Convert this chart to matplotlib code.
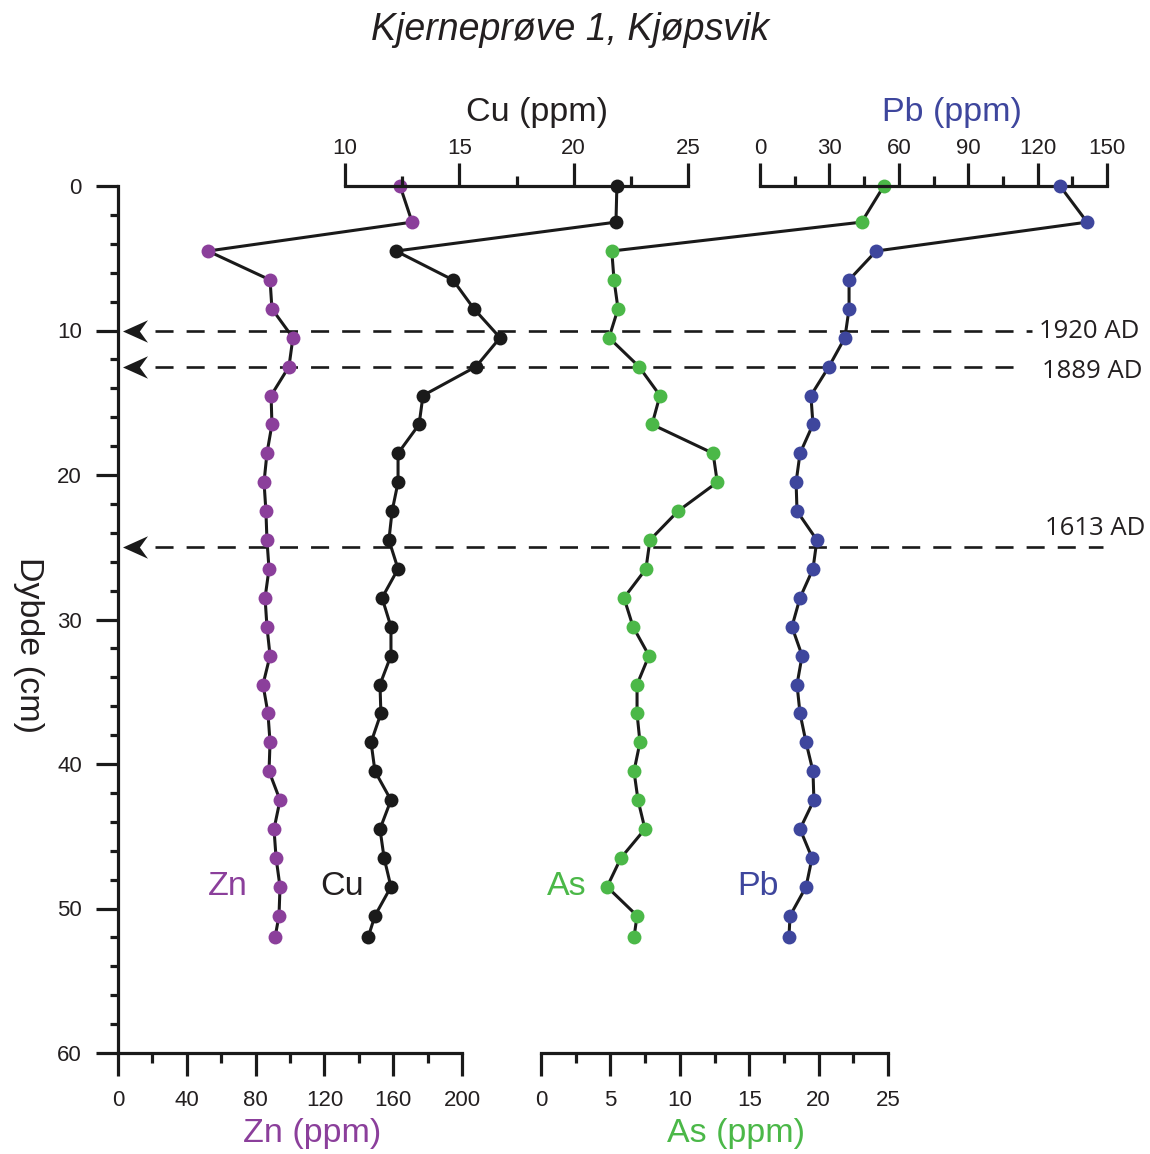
import matplotlib
matplotlib.use('Agg')
import matplotlib.pyplot as plt
from matplotlib.path import Path
from matplotlib.ticker import MultipleLocator

plt.rcParams['font.family'] = ['Liberation Sans', 'DejaVu Sans']
plt.rcParams['lines.scale_dashes'] = False

# ---------------- data ----------------
depth = [0, 2.5, 4.5, 6.5, 8.5, 10.5, 12.5, 14.5, 16.5, 18.5, 20.5, 22.5, 24.5,
         26.5, 28.5, 30.5, 32.5, 34.5, 36.5, 38.5, 40.5, 42.5, 44.5, 46.5,
         48.5, 50.5, 52]
zn = [164, 171, 52.3, 88.4, 89.5, 101.7, 99.4, 89, 89.5, 86.6, 84.9, 86, 86.6,
      87.8, 85.5, 86.6, 88.4, 84.3, 87.2, 88.4, 87.8, 94.2, 90.7, 91.9, 94.2,
      93.6, 91.3]
cu = [21.89, 21.85, 12.23, 14.72, 15.64, 16.78, 15.73, 13.41, 13.24, 12.32,
      12.32, 12.06, 11.92, 12.32, 11.62, 12.01, 12.01, 11.53, 11.57, 11.14,
      11.31, 12.01, 11.53, 11.71, 12.01, 11.31, 11.01]
as_ = [24.7, 23.1, 5.1, 5.26, 5.55, 4.9, 7.06, 8.57, 8.0, 12.4, 12.7, 9.87,
       7.85, 7.56, 5.98, 6.63, 7.78, 6.92, 6.92, 7.13, 6.7, 6.99, 7.49, 5.76,
       4.76, 6.92, 6.7]
pb = [129.7, 141.4, 50.2, 38.5, 38.5, 36.7, 29.8, 22.0, 22.9, 17.3, 15.6, 16.0,
      24.6, 22.9, 17.3, 13.8, 18.2, 16.0, 17.3, 19.9, 22.9, 23.3, 17.3, 22.5,
      19.9, 13.0, 12.5]

date_labels = ['1920 AD', '1889 AD', '1613 AD']
date_depths = [10, 12.5, 25]

title = 'Kjerneprøve 1, Kjøpsvik'
ylabel = 'Dybde (cm)'

# ---------------- style ----------------
PURPLE = '#8B3F9B'
GREEN = '#4BB848'
BLUE = '#3E469D'
BLACK = '#1a1a1a'
TXT = '#231F20'

W, H = 1150, 1154
Y0, Y1 = 186, 1053  # pixel rows of depth 0 and 60

fig = plt.figure(figsize=(W / 100, H / 100), dpi=100)


def rect(x0, x1):
    return [x0 / W, 1 - Y1 / H, (x1 - x0) / W, (Y1 - Y0) / H]


SP_W = 2.3
TICK_FS = 16
LAB_FS = 24.5

# overlay for reference lines (drawn first, below data)
ov = fig.add_axes([0, 1 - Y1 / H, 1, (Y1 - Y0) / H])
ov.set_xlim(0, W)
ov.set_ylim(60, 0)
ov.axis('off')
ov.patch.set_alpha(0)

arrow_path = Path([(-1, 0), (1, 0.9), (0.35, 0), (1, -0.9), (-1, 0)],
                  [Path.MOVETO, Path.LINETO, Path.LINETO, Path.LINETO, Path.CLOSEPOLY])
line_ends = [1032, 1017, 1103]
label_dy = [-5.5, -8, 8.5]
label_x = [1039, 1042, 1045]
for lab, d, xe, dy, lx in zip(date_labels, date_depths, line_ends, label_dy, label_x):
    ov.plot([155, xe], [d, d], color=BLACK, lw=1.9, dashes=(13, 9.4), clip_on=False)
    ov.plot([134.5], [d], marker=arrow_path, markersize=18, color=BLACK,
            markeredgewidth=0, clip_on=False)
    ov.annotate(lab, xy=(lx, d), xytext=(0, dy), textcoords='offset points',
                ha='left', va='baseline',
                fontsize=18.5, family=['Open Sans', 'DejaVu Sans'], color=TXT)


def setup(ax, side, xlim, major, minor):
    ax.set_xlim(*xlim)
    ax.set_ylim(60, 0)
    ax.patch.set_alpha(0)
    for s in ax.spines.values():
        s.set_visible(False)
        s.set_linewidth(SP_W)
        s.set_color(BLACK)
    ax.spines[side].set_visible(True)
    ax.xaxis.set_ticks_position(side)
    ax.xaxis.set_label_position(side)
    ax.xaxis.set_major_locator(MultipleLocator(major))
    ax.xaxis.set_minor_locator(MultipleLocator(minor))
    pad = 10 if side == 'bottom' else 3
    ax.tick_params(axis='x', which='major', direction='out', length=16.5,
                   width=SP_W, labelsize=TICK_FS, pad=pad, colors=BLACK,
                   labelcolor=TXT)
    ax.tick_params(axis='x', which='minor', direction='out', length=7,
                   width=SP_W, colors=BLACK)
    ax.set_yticks([])
    ax.yaxis.set_tick_params(which='minor', left=False, right=False)


def series(ax, x, color):
    ax.plot(x, depth, '-', color=BLACK, lw=2.2, zorder=2, clip_on=False,
            solid_joinstyle='round')
    ax.plot(x, depth, 'o', color=color, markersize=10, markeredgewidth=0,
            zorder=3, clip_on=False)


# Zn (bottom) + depth axis
ax_zn = fig.add_axes(rect(118, 462))
setup(ax_zn, 'bottom', (0, 200), 40, 20)
ax_zn.spines['left'].set_visible(True)
ax_zn.yaxis.set_major_locator(MultipleLocator(10))
ax_zn.yaxis.set_minor_locator(MultipleLocator(2))
ax_zn.tick_params(axis='y', which='major', direction='out', length=16,
                  width=SP_W, labelsize=TICK_FS, pad=10, left=True,
                  labelleft=True, colors=BLACK, labelcolor=TXT)
ax_zn.tick_params(axis='y', which='minor', direction='out', length=6,
                  width=SP_W, left=True, colors=BLACK)
series(ax_zn, zn, PURPLE)

# Cu (top)
ax_cu = fig.add_axes(rect(345, 688))
setup(ax_cu, 'top', (10, 25), 5, 2.5)
series(ax_cu, cu, BLACK)

# As (bottom)
ax_as = fig.add_axes(rect(541, 888))
setup(ax_as, 'bottom', (0, 25), 5, 2.5)
series(ax_as, as_, GREEN)

# Pb (top)
ax_pb = fig.add_axes(rect(760, 1107))
setup(ax_pb, 'top', (0, 150), 30, 15)
series(ax_pb, pb, BLUE)


# axis titles (placed in figure pixels)
def ftext(x, y, s, **kw):
    fig.text(x / W, 1 - y / H, s, **kw)


ftext(537, 121, 'Cu (ppm)', ha='center', va='baseline', fontsize=LAB_FS, color=TXT)
ftext(952, 121, 'Pb (ppm)', ha='center', va='baseline', fontsize=LAB_FS, color=BLUE)
ftext(312, 1142, 'Zn (ppm)', ha='center', va='baseline', fontsize=LAB_FS, color=PURPLE)
ftext(736, 1142, 'As (ppm)', ha='center', va='baseline', fontsize=LAB_FS, color=GREEN)
ftext(570, 40, title, ha='center', va='baseline', fontsize=27, style='italic', color=TXT)
ftext(28, 645, ylabel, ha='center', va='center', rotation=270, fontsize=LAB_FS,
      color=TXT)

# series names
ftext(228, 895, 'Zn', ha='center', va='baseline', fontsize=LAB_FS, color=PURPLE)
ftext(342, 895, 'Cu', ha='center', va='baseline', fontsize=LAB_FS, color=TXT)
ftext(567, 895, 'As', ha='center', va='baseline', fontsize=LAB_FS, color=GREEN)
ftext(758, 895, 'Pb', ha='center', va='baseline', fontsize=LAB_FS, color=BLUE)

fig.savefig('out.png', dpi=100, facecolor='white')
